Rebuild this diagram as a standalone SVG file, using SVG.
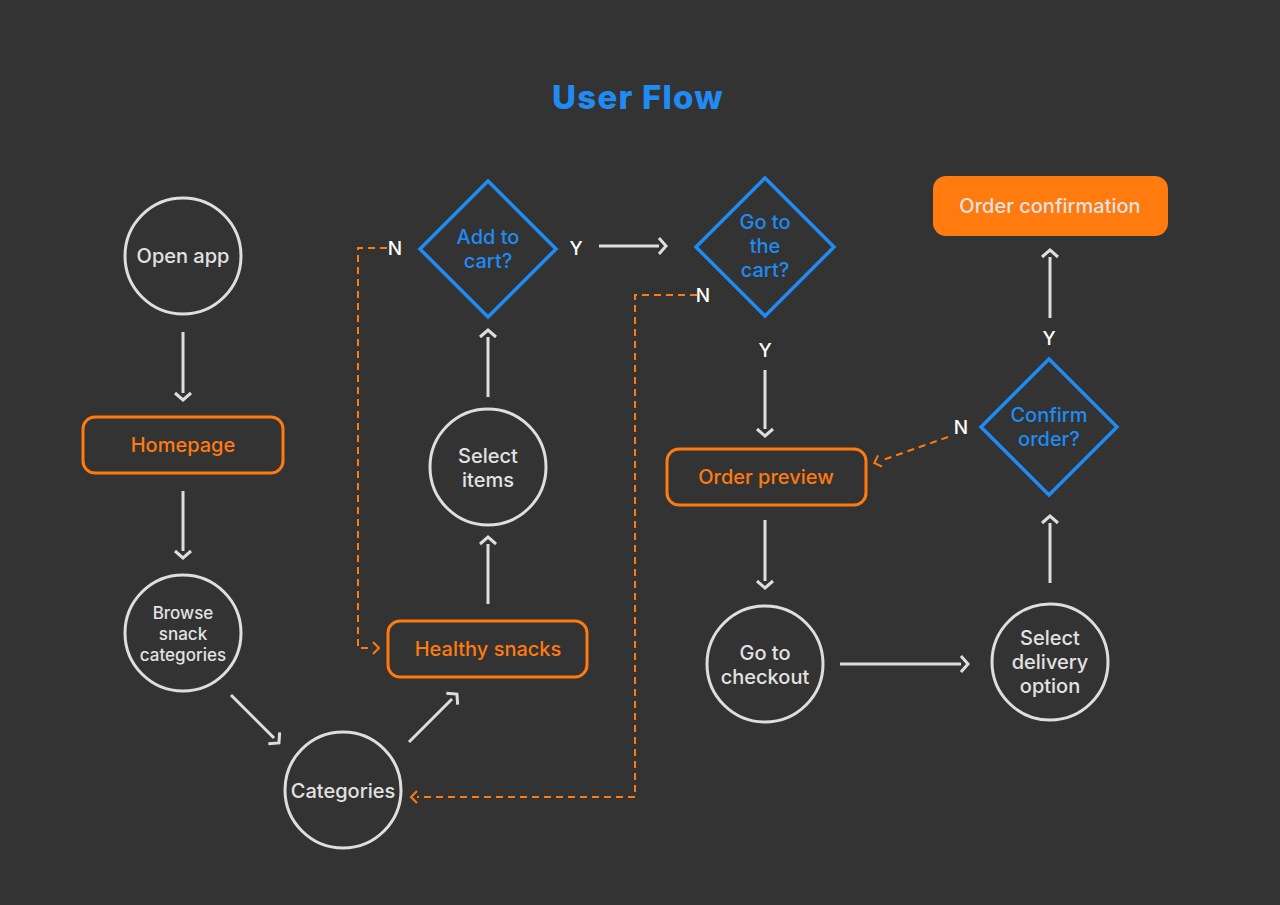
<svg xmlns="http://www.w3.org/2000/svg" width="1280" height="905" viewBox="0 0 1280 905">
<defs>
<style>
.bg{fill:#333333}
.circ{fill:none;stroke:#dedede;stroke-width:3}
.box{fill:none;stroke:#ff7a0f;stroke-width:3}
.dia{fill:none;stroke:#1f8bf3;stroke-width:3.5;stroke-linejoin:miter}
.ln{fill:none;stroke:#dedede;stroke-width:3}
.dash{fill:none;stroke:#ff7a0f;stroke-width:2;stroke-dasharray:7 5}
.t{font-family:Inter,"Noto Sans","Liberation Sans",sans-serif;font-weight:500;text-anchor:middle}
.tw{fill:#e2e2e2;font-size:20px}
.ts{fill:#e2e2e2;font-size:17px}
.to{fill:#ff7a0f;font-size:20px}
.tb{fill:#1f8bf3;font-size:20px}
.lab{fill:#ffffff;font-size:19px}
</style>
<marker id="chev" markerUnits="userSpaceOnUse" viewBox="-2 -10 12 20" markerWidth="12" markerHeight="20" refX="0" refY="0" orient="auto" overflow="visible">
<path d="M0,-8 L7,0 L0,8" fill="none" stroke="#dedede" stroke-width="3"/>
</marker>
<marker id="chevo" markerUnits="userSpaceOnUse" viewBox="-2 -8 10 16" markerWidth="10" markerHeight="16" refX="0" refY="0" orient="auto" overflow="visible">
<path d="M0,-6 L6,0 L0,6" fill="none" stroke="#ff7a0f" stroke-width="2"/>
</marker>
</defs>
<rect class="bg" x="0" y="0" width="1280" height="905"/>
<text x="638" y="109" font-family="Inter,'Noto Sans','Liberation Sans',sans-serif" font-weight="800" font-size="33" letter-spacing="1.2" fill="#1f8bf3" text-anchor="middle">User Flow</text>

<g id="connectors">
<line class="ln" x1="183" y1="332" x2="183" y2="393" marker-end="url(#chev)"/>
<line class="ln" x1="183" y1="491" x2="183" y2="551" marker-end="url(#chev)"/>
<line class="ln" x1="231" y1="695" x2="274" y2="738" marker-end="url(#chev)"/>
<line class="ln" x1="409" y1="742" x2="452" y2="699" marker-end="url(#chev)"/>
<line class="ln" x1="488" y1="604" x2="488" y2="544" marker-end="url(#chev)"/>
<line class="ln" x1="488" y1="397" x2="488" y2="337" marker-end="url(#chev)"/>
<line class="ln" x1="599" y1="246" x2="659" y2="246" marker-end="url(#chev)"/>
<line class="ln" x1="765" y1="370" x2="765" y2="429" marker-end="url(#chev)"/>
<line class="ln" x1="765" y1="520" x2="765" y2="581" marker-end="url(#chev)"/>
<line class="ln" x1="840" y1="664" x2="961" y2="664" marker-end="url(#chev)"/>
<line class="ln" x1="1050" y1="583" x2="1050" y2="523" marker-end="url(#chev)"/>
<line class="ln" x1="1050" y1="318" x2="1050" y2="257" marker-end="url(#chev)"/>
<path class="dash" d="M387,248 H358 V648 H373" marker-end="url(#chevo)"/>
<path class="dash" d="M697,295 H635 V797 H417" marker-end="url(#chevo)"/>
<path class="dash" d="M948,437 L880,461" marker-end="url(#chevo)"/>
<text class="t lab" x="395" y="255">N</text>
<text class="t lab" x="576" y="255">Y</text>
<text class="t lab" x="703" y="302">N</text>
<text class="t lab" x="765" y="357">Y</text>
<text class="t lab" x="961" y="434">N</text>
<text class="t lab" x="1049" y="345">Y</text>
</g>

<g id="open-app">
<circle class="circ" cx="183" cy="256" r="58"/>
<text class="t tw" x="183" y="263">Open app</text>
</g>
<g id="homepage">
<rect class="box" x="83" y="417" width="200" height="56" rx="12"/>
<text class="t to" x="183" y="452">Homepage</text>
</g>
<g id="browse">
<circle class="circ" cx="183" cy="633" r="58"/>
<text class="t ts" x="183" y="619">Browse</text>
<text class="t ts" x="183" y="640">snack</text>
<text class="t ts" x="183" y="661">categories</text>
</g>
<g id="categories">
<circle class="circ" cx="343" cy="790" r="58"/>
<text class="t tw" x="343" y="798">Categories</text>
</g>
<g id="healthy-snacks">
<rect class="box" x="388" y="621" width="199" height="56" rx="12"/>
<text class="t to" x="488" y="656">Healthy snacks</text>
</g>
<g id="select-items">
<circle class="circ" cx="488" cy="467" r="58"/>
<text class="t tw" x="488" y="463">Select</text>
<text class="t tw" x="488" y="487">items</text>
</g>
<g id="add-to-cart">
<polygon class="dia" points="488,181 556,249 488,317 420,249"/>
<text class="t tb" x="488" y="244">Add to</text>
<text class="t tb" x="488" y="268">cart?</text>
</g>
<g id="go-to-cart">
<polygon class="dia" points="765,178 834,247 765,316 696,247"/>
<text class="t tb" x="765" y="229">Go to</text>
<text class="t tb" x="765" y="253">the</text>
<text class="t tb" x="765" y="277">cart?</text>
</g>
<g id="order-preview">
<rect class="box" x="667" y="449" width="199" height="56" rx="12"/>
<text class="t to" x="766" y="484">Order preview</text>
</g>
<g id="checkout">
<circle class="circ" cx="765" cy="664" r="58"/>
<text class="t tw" x="765" y="660">Go to</text>
<text class="t tw" x="765" y="684">checkout</text>
</g>
<g id="delivery">
<circle class="circ" cx="1050" cy="662" r="58"/>
<text class="t tw" x="1050" y="645">Select</text>
<text class="t tw" x="1050" y="669">delivery</text>
<text class="t tw" x="1050" y="693">option</text>
</g>
<g id="confirm-order">
<polygon class="dia" points="1049,359 1117,427 1049,495 981,427"/>
<text class="t tb" x="1049" y="422">Confirm</text>
<text class="t tb" x="1049" y="446">order?</text>
</g>
<g id="order-confirmation">
<rect x="933" y="176" width="235" height="60" rx="13" fill="#ff7a0f"/>
<text class="t tw" x="1050" y="213">Order confirmation</text>
</g>
</svg>
